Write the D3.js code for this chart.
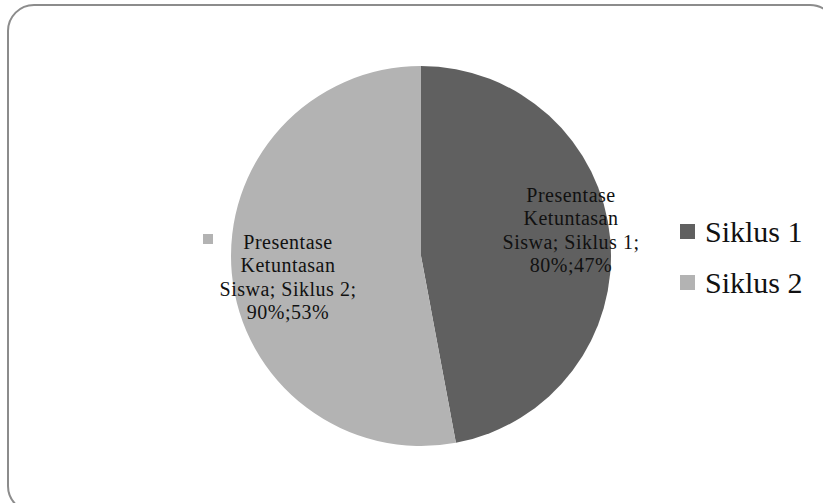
<!DOCTYPE html>
<html>
<head>
<meta charset="utf-8">
<script src="https://cdn.jsdelivr.net/npm/d3@7"></script>
<style>
  body { margin: 0; background: #fff; }
  svg { display: block; font-family: "Liberation Serif", "Times New Roman", serif; }
</style>
</head>
<body>
<svg id="chart" width="823" height="503"></svg>
<script>
// data
const categories = ["Siklus 1", "Siklus 2"];
const values = [80, 90];
const percents = ["47%", "53%"];
const colors = ["#606060", "#b3b3b3"];

const svg = d3.select("#chart");

// frame
svg.append("rect")
  .attr("x", 8).attr("y", 5)
  .attr("width", 828).attr("height", 507)
  .attr("rx", 26).attr("ry", 26)
  .attr("fill", "#fff")
  .attr("stroke", "#8c8c8c")
  .attr("stroke-width", 2);

const cx = 421, cy = 256, r = 190;

const pie = d3.pie().sort(null).value(d => d);
const arcs = pie(values);
const arc = d3.arc().innerRadius(0).outerRadius(r);

const g = svg.append("g").attr("transform", `translate(${cx},${cy})`);

g.selectAll("path.slice")
  .data(arcs)
  .enter()
  .append("path")
  .attr("class", "slice")
  .attr("d", arc)
  .attr("fill", (d, i) => colors[i]);

// data labels
const labelPos = [
  { x: 571, y: 202 },
  { x: 288, y: 249 }
];
const lineH = 23.4;

arcs.forEach((d, i) => {
  const lines = ["Presentase", "Ketuntasan",
    `Siswa; ${categories[i]};`, `${values[i]}%;${percents[i]}`];
  const t = svg.append("text")
    .attr("text-anchor", "middle")
    .attr("font-size", 20)
    .attr("letter-spacing", 0.5)
    .attr("fill", "#111");
  lines.forEach((s, k) => {
    t.append("tspan")
      .attr("x", labelPos[i].x)
      .attr("y", labelPos[i].y + k * lineH)
      .text(s);
  });
});

// small legend key beside the Siklus 2 label
svg.append("rect")
  .attr("x", 203).attr("y", 234)
  .attr("width", 10).attr("height", 10)
  .attr("fill", colors[1]);

// legend
const legend = svg.append("g");
categories.forEach((c, i) => {
  const y0 = 224 + i * 51;
  legend.append("rect")
    .attr("x", 680).attr("y", y0)
    .attr("width", 15).attr("height", 15)
    .attr("fill", colors[i]);
  legend.append("text")
    .attr("x", 705).attr("y", y0 + 18)
    .attr("font-size", 30)
    .attr("fill", "#111")
    .text(c);
});
</script>
</body>
</html>
